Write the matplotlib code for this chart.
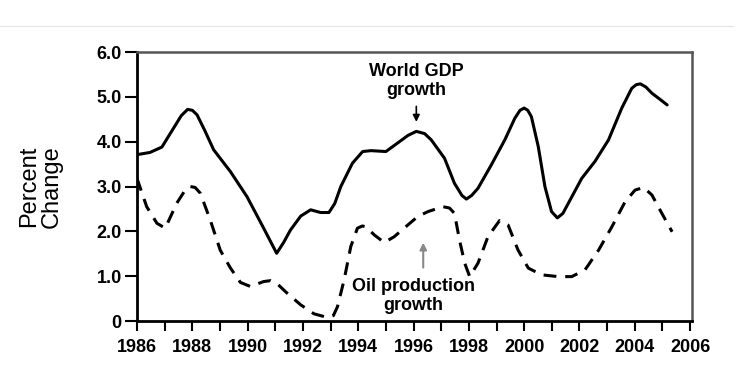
import matplotlib
matplotlib.use("Agg")
import matplotlib.pyplot as plt
from matplotlib.lines import Line2D

plt.rcParams['font.family'] = ['Liberation Sans', 'DejaVu Sans']

# valores (anio, % de cambio)
gdp_anios = [1986.0, 1986.47, 1986.9, 1987.32, 1987.6, 1987.83, 1988.0, 1988.17, 1988.45,
             1988.77, 1989.38, 1989.98, 1990.58, 1991.05, 1991.3, 1991.55, 1991.92,
             1992.28, 1992.64, 1992.94, 1993.15, 1993.37, 1993.79, 1994.16, 1994.46,
             1995.0, 1995.49, 1995.8, 1996.1, 1996.4, 1996.64, 1997.12, 1997.48,
             1997.75, 1997.91, 1998.1, 1998.33, 1998.81, 1999.3, 1999.66, 1999.85,
             2000.0, 2000.13, 2000.26, 2000.51, 2000.75, 2000.99, 2001.2, 2001.4,
             2001.6, 2002.08, 2002.56, 2003.05, 2003.53, 2003.89, 2004.05, 2004.2,
             2004.4, 2004.62, 2004.9, 2005.17]
gdp_valores = [3.71, 3.76, 3.88, 4.30, 4.58, 4.72, 4.70, 4.60, 4.25,
               3.82, 3.33, 2.77, 2.07, 1.51, 1.75, 2.03, 2.34,
               2.48, 2.42, 2.42, 2.62, 3.00, 3.52, 3.78, 3.80,
               3.78, 4.00, 4.14, 4.23, 4.18, 4.04, 3.63, 3.07,
               2.80, 2.72, 2.80, 2.96, 3.48, 4.04, 4.52, 4.70,
               4.75, 4.70, 4.56, 3.89, 3.00, 2.44, 2.30, 2.40,
               2.63, 3.18, 3.56, 4.04, 4.75, 5.19, 5.27, 5.29,
               5.22, 5.08, 4.95, 4.82]

oil_anios = [1986.0, 1986.35, 1986.72, 1987.02, 1987.44, 1987.7, 1987.92, 1988.1, 1988.29,
             1988.65, 1989.01, 1989.38, 1989.74, 1990.1, 1990.58, 1990.83, 1991.07,
             1991.43, 1991.92, 1992.4, 1992.88, 1993.1, 1993.25, 1993.49, 1993.73,
             1993.97, 1994.15, 1994.28, 1994.58, 1994.94, 1995.3, 1995.79, 1996.15,
             1996.52, 1997.06, 1997.3, 1997.48, 1997.66, 1997.85, 1998.03, 1998.33,
             1998.69, 1999.11, 1999.42, 1999.78, 2000.15, 2000.63, 2001.23, 2001.72,
             2002.2, 2002.69, 2003.17, 2003.65, 2004.01, 2004.32, 2004.62, 2004.98,
             2005.35]
oil_valores = [3.18, 2.55, 2.18, 2.07, 2.63, 2.88, 3.00, 2.98, 2.85,
               2.25, 1.58, 1.18, 0.86, 0.77, 0.88, 0.90, 0.83,
               0.62, 0.36, 0.16, 0.08, 0.12, 0.32, 0.92, 1.66,
               2.07, 2.12, 2.10, 1.92, 1.75, 1.88, 2.14, 2.33,
               2.44, 2.55, 2.52, 2.40, 1.81, 1.29, 0.99, 1.29,
               1.88, 2.24, 2.14, 1.58, 1.18, 1.03, 0.99, 0.99,
               1.14, 1.58, 2.10, 2.66, 2.92, 2.98, 2.81, 2.40,
               1.99]

anios_ticks = list(range(1986, 2007, 2))
anios_menores = list(range(1987, 2006, 2))
y_ticks = [0, 1, 2, 3, 4, 5, 6]
y_etiquetas = ['0', '1.0', '2.0', '3.0', '4.0', '5.0', '6.0']

fig = plt.figure(figsize=(7.43, 3.89), dpi=100)
ax = fig.add_axes([0.1844, 0.1748, 0.7470, 0.6915])

ax.plot(gdp_anios, gdp_valores, color='black', lw=2.2,
        solid_capstyle='round', solid_joinstyle='round')
ax.plot(oil_anios, oil_valores, color='black', lw=2.2, dashes=(4.2, 2.9),
        dash_joinstyle='round')

ax.set_xlim(1986, 2006.07)
ax.set_ylim(0, 6)

ax.set_xticks(anios_ticks)
ax.set_xticks(anios_menores, minor=True)
ax.set_yticks(y_ticks)
ax.set_yticklabels(y_etiquetas)
ax.tick_params(axis='x', which='both', direction='out', length=7, width=1.5,
               labelsize=13, pad=6)
ax.tick_params(axis='y', direction='out', length=9, width=1.5, labelsize=13, pad=2)
for lab in ax.get_xticklabels() + ax.get_yticklabels():
    lab.set_fontweight('bold')

ax.spines['left'].set_linewidth(2)
ax.spines['bottom'].set_linewidth(2)
ax.spines['top'].set_color('#555555')
ax.spines['right'].set_color('#555555')
ax.spines['top'].set_linewidth(1.8)
ax.spines['right'].set_linewidth(1.8)

ax.set_ylabel('Percent\nChange', fontsize=17, linespacing=1.05, labelpad=24)

# anotaciones
ax.annotate('', xy=(1996.1, 4.38), xytext=(1996.1, 4.85),
            arrowprops=dict(arrowstyle='-|>', color='black', lw=1.2, mutation_scale=10))
ax.text(1996.1, 5.35, 'World GDP\ngrowth', ha='center', va='center',
        fontsize=13, fontweight='bold', linespacing=1.15)
ax.annotate('', xy=(1996.35, 1.81), xytext=(1996.35, 1.13),
            arrowprops=dict(arrowstyle='-|>', color='#888888', lw=1.5, mutation_scale=10))
ax.text(1996.0, 0.55, 'Oil production\ngrowth', ha='center', va='center',
        fontsize=13, fontweight='bold', linespacing=1.15)

# linea gris de arriba
fig.add_artist(Line2D([0, 0.987], [0.933, 0.933], color='#e6e6e6', lw=1))

plt.savefig('out.png', dpi=100)
plt.close()
